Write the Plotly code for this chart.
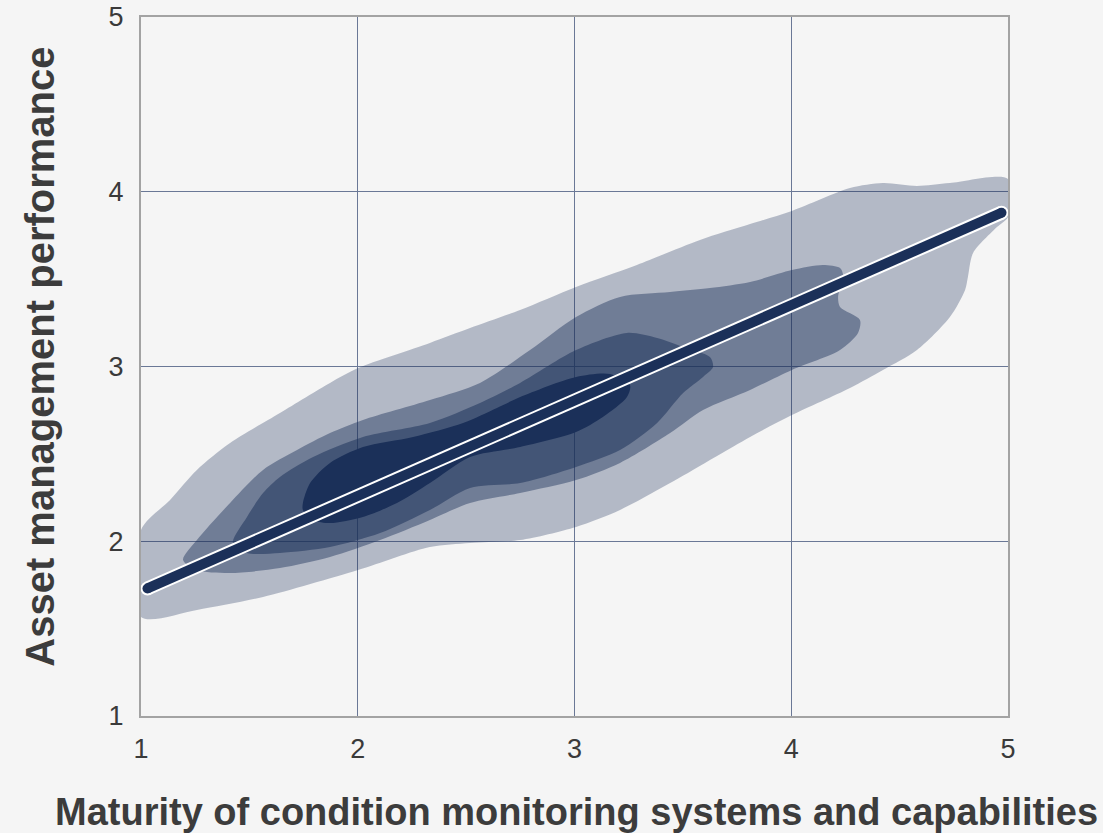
import plotly.graph_objects as go

# ---- data ----
x_title = "Maturity of condition monitoring systems and capabilities"
y_title = "Asset management performance"
tick_vals = [1, 2, 3, 4, 5]
tick_text = ["1", "2", "3", "4", "5"]

# density contour outlines (outermost -> innermost), data coordinates
lvl1_x = [1.000, 1.134, 1.258, 1.411, 1.641, 1.872, 2.001, 2.333, 2.518, 2.749,
          3.007, 3.288, 3.579, 3.810, 4.003, 4.271, 4.423, 4.580, 4.732, 5.000,
          5.000, 4.949, 4.839, 4.815, 4.802, 4.732, 4.580, 4.423, 4.271, 4.003,
          3.810, 3.441, 3.210, 3.007, 2.749, 2.518, 2.333, 2.001, 1.563, 1.258,
          1.000]
lvl1_y = [2.064, 2.236, 2.408, 2.562, 2.734, 2.906, 2.991, 3.135, 3.220, 3.323,
          3.455, 3.581, 3.724, 3.815, 3.890, 4.021, 4.050, 4.033, 4.050, 4.073,
          3.856, 3.798, 3.649, 3.512, 3.438, 3.283, 3.094, 2.980, 2.877, 2.722,
          2.597, 2.333, 2.179, 2.082, 2.007, 1.990, 1.967, 1.835, 1.681, 1.607,
          1.567]

lvl2_x = [1.194, 1.258, 1.411, 1.563, 1.720, 1.872, 2.024, 2.333, 2.564, 2.795,
          3.007, 3.210, 3.441, 3.625, 3.810, 4.003, 4.146, 4.225, 4.239, 4.216,
          4.225, 4.317, 4.308, 4.225, 4.003, 3.810, 3.593, 3.441, 3.210, 3.007,
          2.749, 2.518, 2.333, 2.103, 1.872, 1.641, 1.411, 1.258]
lvl2_y = [1.893, 2.007, 2.219, 2.408, 2.522, 2.619, 2.694, 2.808, 2.906, 3.094,
          3.283, 3.398, 3.426, 3.449, 3.484, 3.552, 3.581, 3.564, 3.524, 3.398,
          3.340, 3.266, 3.192, 3.094, 2.980, 2.866, 2.751, 2.619, 2.448, 2.350,
          2.276, 2.219, 2.122, 2.007, 1.910, 1.847, 1.818, 1.835]

lvl3_x = [1.424, 1.489, 1.563, 1.641, 1.794, 2.024, 2.333, 2.564, 2.749, 3.007,
          3.242, 3.381, 3.501, 3.625, 3.639, 3.593, 3.501, 3.381, 3.210, 3.007,
          2.749, 2.518, 2.333, 2.103, 1.872, 1.641, 1.489]
lvl3_y = [1.990, 2.139, 2.276, 2.368, 2.482, 2.597, 2.677, 2.791, 2.906, 3.094,
          3.192, 3.163, 3.112, 3.054, 2.997, 2.940, 2.848, 2.677, 2.522, 2.425,
          2.333, 2.305, 2.179, 2.047, 1.967, 1.933, 1.933]

lvl4_x = [1.747, 1.780, 1.872, 2.024, 2.255, 2.486, 2.642, 2.749, 3.007, 3.164,
          3.256, 3.242, 3.131, 3.007, 2.749, 2.518, 2.333, 2.181, 2.024, 1.872,
          1.794, 1.747]
lvl4_y = [2.219, 2.333, 2.448, 2.539, 2.597, 2.677, 2.763, 2.825, 2.940, 2.957,
          2.894, 2.825, 2.711, 2.625, 2.539, 2.482, 2.333, 2.219, 2.139, 2.104,
          2.122, 2.179]

# fitted regression line
fit_x = [1.03, 4.97]
fit_y = [1.73, 3.88]

# ---- styling ----
NAVY = "27,48,89"
BG = "#f5f5f5"
level_alpha = [0.30, 0.44, 0.52, 1.0]
levels = [(lvl1_x, lvl1_y), (lvl2_x, lvl2_y), (lvl3_x, lvl3_y), (lvl4_x, lvl4_y)]

fig = go.Figure()
for (lx, ly), a in zip(levels, level_alpha):
    fig.add_trace(go.Scatter(
        x=lx + [lx[0]], y=ly + [ly[0]], mode="lines",
        line=dict(width=0, shape="spline", smoothing=0.8),
        fill="toself", fillcolor=f"rgba({NAVY},{a})",
        hoverinfo="skip", showlegend=False))

fig.add_trace(go.Scatter(
    x=fit_x, y=fit_y, mode="lines+markers",
    line=dict(color="white", width=14),
    marker=dict(color="white", size=14),
    hoverinfo="skip", showlegend=False, cliponaxis=False))
fig.add_trace(go.Scatter(
    x=fit_x, y=fit_y, mode="lines+markers",
    line=dict(color=f"rgb({NAVY})", width=10),
    marker=dict(color=f"rgb({NAVY})", size=10),
    showlegend=False, cliponaxis=False))

axis_common = dict(
    range=[1, 5], tickmode="array", tickvals=tick_vals, ticktext=tick_text,
    showgrid=True, gridcolor="#6a7896", gridwidth=1,
    showline=True, linecolor="#a3a3a3", linewidth=2, mirror=True,
    zeroline=False, ticks="",
    tickfont=dict(family="Liberation Sans, Arial, sans-serif", size=27, color="#3a3a3a"),
)

fig.update_layout(
    width=1103, height=833,
    margin=dict(l=141, r=95, t=17, b=117, autoexpand=False),
    paper_bgcolor=BG, plot_bgcolor=BG,
    xaxis=dict(**axis_common, ticklabelstandoff=8),
    yaxis=dict(**axis_common, ticklabelstandoff=10),
    annotations=[
        dict(text=f"<b>{x_title}</b>", xref="paper", yref="paper",
             x=0.502, y=-0.137, xanchor="center", yanchor="middle", showarrow=False,
             font=dict(family="Liberation Sans, Arial, sans-serif", size=38, color="#3c3c3c")),
        dict(text=f"<b>{y_title}</b>", xref="paper", yref="paper",
             x=-0.1165, y=0.514, xanchor="center", yanchor="middle", showarrow=False,
             textangle=-90,
             font=dict(family="Liberation Sans, Arial, sans-serif", size=40, color="#3c3c3c")),
    ],
)

fig.write_html(
    "out.html",
    config={"displayModeBar": False},
    post_script="document.body.style.margin='0';document.body.style.padding='0';"
                "document.body.style.background='#f5f5f5';",
)
